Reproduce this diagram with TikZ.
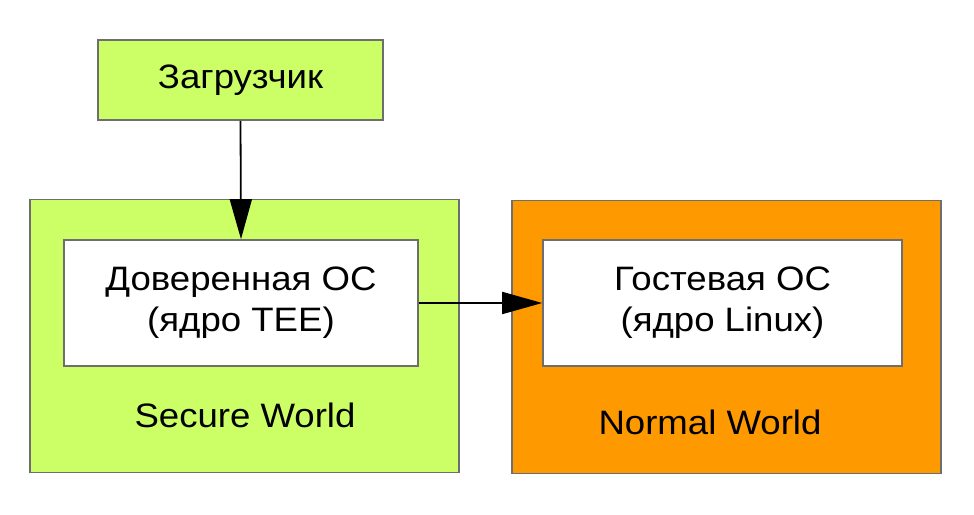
\documentclass[tikz,border=0pt]{standalone}
\usepackage{fontspec}
\setmainfont[FakeStretch=1.08]{Liberation Sans}
\usepackage{tikz}
\usetikzlibrary{arrows.meta, positioning}
\definecolor{worldlime}{HTML}{CCFF66}
\definecolor{worldorange}{HTML}{FF9900}
\definecolor{edgegray}{HTML}{6E6E6E}

\begin{document}
\begin{tikzpicture}[x=1bp, y=-1bp,
  box/.style={draw=edgegray, line width=1.6bp, inner sep=0pt, align=center,
    font=\fontsize{34}{41}\selectfont},
  worldbox/.style={box, minimum width=429bp, minimum height=273bp},
  osbox/.style={box, fill=white, minimum height=126bp},
  flow/.style={line width=1.8bp, -{Triangle[length=40bp, width=22bp]}}]
  \useasboundingbox (0,0) rectangle (974,515);

  % World frames
  \node[worldbox, fill=worldlime] (secure) at (244.5,336) {};
  \node[worldbox, fill=worldorange] (normal) at (726.5,337) {};

  % Loader
  \node[box, fill=worldlime, minimum width=285bp, minimum height=80bp] (loader) at (240.5,80) {Загрузчик};

  % Kernels inside the worlds
  \node[osbox, minimum width=354bp] (trusted) at (241,303) {Доверенная ОС\\(ядро TEE)};
  \node[osbox, minimum width=359bp] (guest) at (722.5,303) {Гостевая ОС\\(ядро Linux)};

  % World labels
  \node[font=\fontsize{34}{41}\selectfont] (securelabel) at (245,415) {Secure World};
  \node[font=\fontsize{34}{41}\selectfont] (normallabel) at (710,422) {Normal World};

  % Arrows
  \draw[flow] (loader.south) -- (trusted.north);
  \draw[flow] (trusted.east) -- (guest.west);
\end{tikzpicture}
\end{document}
